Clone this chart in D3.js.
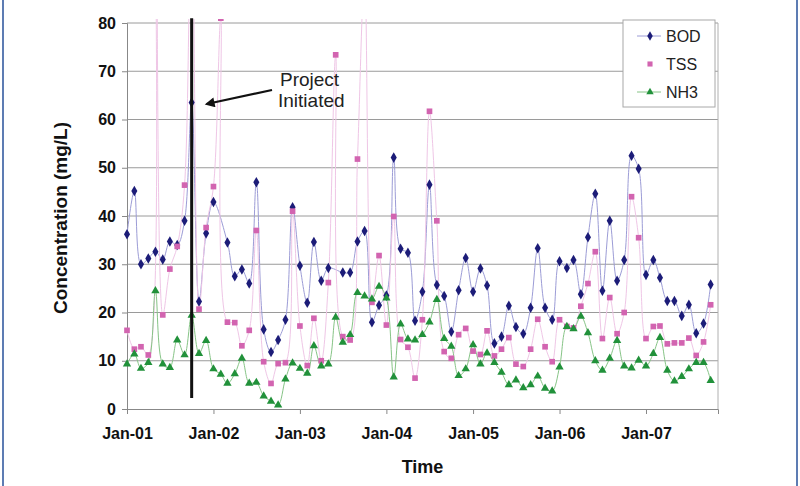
<!DOCTYPE html>
<html>
<head>
<meta charset="utf-8">
<script src="https://cdn.jsdelivr.net/npm/d3@7"></script>
<style>
  body { margin: 0; background: #fff; }
  text { font-family: "Liberation Sans", Arial, sans-serif; }
</style>
</head>
<body>
<div id="chart"></div>
<script>
(function () {
  // monthly samples starting Jan-01 (null = no marker)
  const startMonth = new Date(2001, 0, 1);
  const bod = [36.2, 45.2, 30.0, 31.2, 32.6, 31.0, 34.7, 34.0, 39.0, 63.5, 22.3, 36.4,
    42.9, null, 34.5, 27.5, 28.9, 26.0, 47.0, 16.5, 11.8, 14.3, 18.5, 41.8,
    29.7, 22.0, 34.6, 26.6, 29.2, null, 28.3, 28.3, 34.7, 36.9, 18.0, 21.5,
    23.5, 52.1, 33.2, 32.4, 18.3, 24.3, 46.5, 25.7, 23.4, 16.0, 24.6, 31.3,
    24.3, 29.1, 25.6, 13.6, 15.0, 21.4, 17.0, 15.6, 21.0, 33.3, 21.0, 18.5,
    30.6, 29.2, 30.9, 23.8, 35.6, 44.6, 24.5, 39.0, 26.6, 30.9, 52.5, 49.8,
    27.8, 30.9, 27.2, 22.4, 22.4, 19.3, 21.6, 15.7, 17.7, 25.8];
  const tss = [16.3, 12.4, 12.9, 11.2, 120, 19.5, 29.0, 33.7, 46.4, 110, 20.7, 37.6,
    46.1, 81, 18.0, 17.9, 13.1, 16.3, 37.0, 9.8, 5.3, 9.4, 9.6, 41.0,
    17.2, 9.0, 18.8, 10.0, 26.2, 73.4, 15.0, 14.3, 51.8, 90, 22.1, 31.8,
    17.4, 39.9, 14.4, 12.8, 6.4, 18.5, 61.7, 39.0, 11.9, 10.5, 15.4, 16.7,
    12.0, 11.3, 16.2, 11.0, 12.4, 14.8, 9.3, 8.8, 12.4, 18.6, 12.9, 9.8,
    18.5, 17.1, 16.8, 21.3, 26.0, 32.6, 14.6, 23.1, 15.6, 20.0, 44.0, 35.5,
    14.6, 17.1, 17.2, 13.5, 13.7, 13.7, 14.7, 11.1, 13.9, 21.6];
  const nh3 = [9.3, 11.4, 8.4, 9.6, 24.5, 9.3, 8.6, 14.3, 11.2, 19.4, 11.5, 14.2,
    8.3, 7.2, 5.3, 7.3, 10.5, 5.3, 5.5, 2.7, 1.6, 0.8, 6.2, 9.5,
    8.4, 7.4, 13.1, 8.9, 9.3, 19.0, 13.8, 15.4, 24.1, 23.4, 22.8, 25.4,
    23.0, 6.6, 17.6, 14.5, 14.3, 15.4, 18.0, 22.7, 14.6, 13.0, 6.9, 8.3,
    13.3, 9.3, 11.6, 9.6, 7.6, 5.0, 6.0, 4.4, 5.0, 6.8, 4.3, 3.7,
    8.7, 17.1, 16.6, 19.2, 15.8, 10.0, 8.0, 10.5, 14.2, 8.9, 8.5, 10.1,
    8.9, 11.5, 14.8, 8.0, 5.8, 6.7, 8.3, 9.6, 9.6, 5.9];
  const seriesNames = ["BOD", "TSS", "NH3"];
  const yTicks = [0, 10, 20, 30, 40, 50, 60, 70, 80];
  const projectDate = new Date(2001, 9, 1);

  const width = 800, height = 486;
  const plot = { left: 127, top: 23, right: 718, bottom: 409 };

  const svg = d3.select("#chart").append("svg")
    .attr("width", width).attr("height", height);

  // outer frame (blue side rules)
  svg.append("rect")
    .attr("x", 3).attr("y", -5).attr("width", 794).attr("height", height + 10)
    .attr("fill", "none").attr("stroke", "#5d7cb3").attr("stroke-width", 2);

  const x = d3.scaleTime()
    .domain([startMonth, new Date(2007, 10, 1)])
    .range([plot.left, plot.right]);
  const y = d3.scaleLinear().domain([0, 80]).range([plot.bottom, plot.top]);

  // gridlines
  svg.append("g").selectAll("line")
    .data(yTicks.slice(1))
    .join("line")
    .attr("x1", plot.left).attr("x2", plot.right)
    .attr("y1", d => y(d)).attr("y2", d => y(d))
    .attr("stroke", "#9a9a9a").attr("stroke-width", 1);

  // right border of plot area
  svg.append("line")
    .attr("x1", plot.right).attr("x2", plot.right)
    .attr("y1", plot.top).attr("y2", plot.bottom)
    .attr("stroke", "#b0b0b0");

  // axes
  const yAxis = svg.append("g")
    .attr("transform", `translate(${plot.left},0)`)
    .call(d3.axisLeft(y).tickValues(yTicks).tickSize(5).tickPadding(6));
  const xAxis = svg.append("g")
    .attr("transform", `translate(0,${plot.bottom})`)
    .call(d3.axisBottom(x).ticks(d3.timeYear.every(1))
      .tickFormat(d3.timeFormat("%b-%y")).tickSize(5).tickPadding(14));
  [yAxis, xAxis].forEach(g => {
    g.select(".domain").attr("stroke", "#888");
    g.selectAll(".tick line").attr("stroke", "#888");
    g.selectAll("text")
      .attr("fill", "#111").attr("font-size", 16).attr("font-weight", "bold")
      .attr("font-family", '"Liberation Sans", Arial, sans-serif');
  });

  svg.append("text")
    .attr("transform", `translate(67,${(plot.top + plot.bottom) / 2 + 2}) rotate(-90)`)
    .attr("text-anchor", "middle")
    .attr("font-size", 19).attr("font-weight", "bold").attr("fill", "#111")
    .text("Concentration (mg/L)");
  svg.append("text")
    .attr("x", (plot.left + plot.right) / 2).attr("y", 473)
    .attr("text-anchor", "middle")
    .attr("font-size", 18).attr("font-weight", "bold").attr("fill", "#111")
    .text("Time");

  // clip to plot area
  svg.append("clipPath").attr("id", "plotclip")
    .append("rect")
    .attr("x", plot.left - 6).attr("y", plot.top - 4)
    .attr("width", plot.right - plot.left + 6).attr("height", plot.bottom - plot.top + 4);

  const series = [
    { name: "BOD", values: bod, line: "#9c9cd6", marker: "#1c1c78", shape: d3.symbolDiamond, size: 32 },
    { name: "TSS", values: tss, line: "#efc6e6", marker: "#d264b0", shape: d3.symbolSquare, size: 32 },
    { name: "NH3", values: nh3, line: "#86c486", marker: "#21913a", shape: d3.symbolTriangle, size: 30 }
  ];

  const line = d3.line()
    .x(d => x(d.date)).y(d => y(d.v))
    .curve(d3.curveCatmullRom.alpha(0.5));

  const layer = svg.append("g").attr("clip-path", "url(#plotclip)");
  series.forEach(s => {
    const pts = s.values
      .map((v, i) => ({ date: d3.timeMonth.offset(startMonth, i), v }))
      .filter(d => d.v != null);
    s.pts = pts;
    layer.append("path")
      .datum(pts)
      .attr("fill", "none").attr("stroke", s.line).attr("stroke-width", 1)
      .attr("d", line);
  });
  series.forEach(s => {
    layer.append("g").selectAll("path")
      .data(s.pts)
      .join("path")
      .attr("transform", d => `translate(${x(d.date)},${y(d.v)})`)
      .attr("d", d3.symbol().type(s.shape).size(s.size))
      .attr("fill", s.marker);
  });

  // project initiated marker
  svg.append("line")
    .attr("x1", x(projectDate)).attr("x2", x(projectDate))
    .attr("y1", y(81)).attr("y2", y(2.3))
    .attr("stroke", "#111").attr("stroke-width", 3);

  svg.append("defs").append("marker")
    .attr("id", "arrowhead")
    .attr("viewBox", "0 0 10 10").attr("refX", 8).attr("refY", 5)
    .attr("markerWidth", 6).attr("markerHeight", 4.5)
    .attr("orient", "auto")
    .append("path").attr("d", "M0,0 L10,5 L0,10 Z").attr("fill", "#111");
  svg.append("line")
    .attr("x1", 272).attr("y1", 90)
    .attr("x2", x(projectDate) + 15).attr("y2", 104)
    .attr("stroke", "#111").attr("stroke-width", 2.2)
    .attr("marker-end", "url(#arrowhead)");
  svg.append("text").attr("x", 280).attr("y", 86)
    .attr("font-size", 19).attr("fill", "#222").text("Project");
  svg.append("text").attr("x", 278).attr("y", 107)
    .attr("font-size", 19).attr("fill", "#222").text("Initiated");

  // legend
  const legend = svg.append("g").attr("transform", "translate(623,20)");
  legend.append("rect")
    .attr("width", 92).attr("height", 87)
    .attr("fill", "#fff").attr("stroke", "#a8a8a8");
  const row = d3.scalePoint().domain(seriesNames).range([16, 72]);
  series.forEach(s => {
    const g = legend.append("g").attr("transform", `translate(0,${row(s.name)})`);
    if (s.name !== "TSS") {
      g.append("line").attr("x1", 14).attr("x2", 38)
        .attr("stroke", s.line).attr("stroke-width", 1);
    }
    g.append("path").attr("transform", "translate(27,0)")
      .attr("d", d3.symbol().type(s.shape).size(s.size - 6))
      .attr("fill", s.marker);
    g.append("text").attr("x", 43).attr("y", 6)
      .attr("font-size", 16).attr("fill", "#222").text(s.name);
  });
})();
</script>
</body>
</html>
